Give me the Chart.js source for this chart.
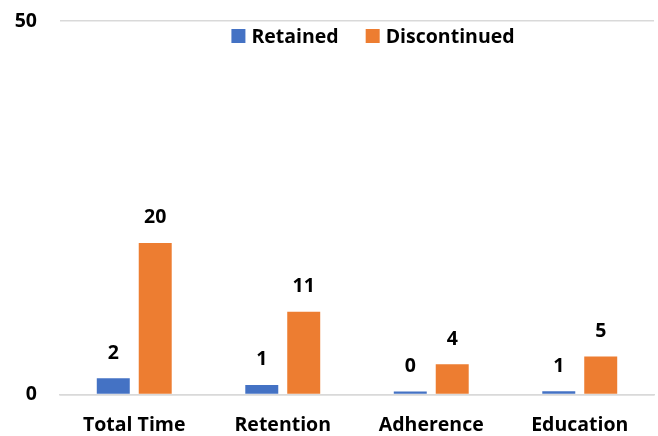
<!DOCTYPE html>
<html>
<head>
<meta charset="utf-8">
<script src="https://cdn.jsdelivr.net/npm/chart.js@4/dist/chart.umd.min.js"></script>
<style>
  html, body { margin: 0; padding: 0; background: #ffffff; }
  #wrap { width: 658px; height: 436px; position: relative; }
</style>
</head>
<body>
<div id="wrap"><canvas id="retentionChart"></canvas></div>
<script>
// Chart data
const categories = ['Total Time', 'Retention', 'Adherence', 'Education'];
const seriesNames = ['Retained', 'Discontinued'];
const retainedValues = [2.2, 1.3, 0.4, 0.45];
const discontinuedValues = [20.3, 11.1, 4.05, 5.1];
// labels as printed above the bars
const retainedLabels = ['2', '1', '0', '1'];
const discontinuedLabels = ['20', '11', '4', '5'];
const yTicks = [0, 50];

const blue = '#4472C4';
const orange = '#ED7D31';
const gridGray = '#d9d9d9';
const fontFamily = '"Open Sans", Lato, sans-serif';
const boldFont = 'bold 19.5px ' + fontFamily;

// draws value labels above the bars
const barLabels = {
    id: 'barLabels',
    afterDatasetsDraw(chart) {
        const ctx = chart.ctx;
        ctx.save();
        ctx.font = boldFont;
        ctx.fillStyle = '#000';
        ctx.textAlign = 'center';
        ctx.textBaseline = 'middle';
        chart.data.datasets.forEach(function(ds, i) {
            const meta = chart.getDatasetMeta(i);
            meta.data.forEach(function(bar, j) {
                ctx.fillText(ds.valueLabels[j], bar.x, bar.y - 25);
            });
        });
        ctx.restore();
    }
};

// y tick labels, placed off the scale so they don't pad the plot
const yLabels = {
    id: 'yLabels',
    afterDraw(chart) {
        const ctx = chart.ctx;
        const y = chart.scales.y;
        ctx.save();
        ctx.font = boldFont;
        ctx.fillStyle = '#000';
        ctx.textAlign = 'right';
        ctx.textBaseline = 'middle';
        yTicks.forEach(function(v) {
            ctx.fillText(String(v), chart.chartArea.left - 23, y.getPixelForValue(v));
        });
        ctx.restore();
    }
};

// legend sits inside the plot, under the top gridline
const innerLegend = {
    id: 'innerLegend',
    afterDraw(chart) {
        const ctx = chart.ctx;
        const area = chart.chartArea;
        ctx.save();
        ctx.font = boldFont;
        ctx.textBaseline = 'middle';
        const box = 14, boxGap = 6, itemGap = 27;
        const items = chart.data.datasets.map(function(ds) {
            return { text: ds.label, color: ds.backgroundColor, w: ctx.measureText(ds.label).width };
        });
        let total = 0;
        items.forEach(function(it, k) {
            total += box + boxGap + it.w + (k < items.length - 1 ? itemGap : 0);
        });
        let x = (area.left + area.right) / 2 + 16 - total / 2;
        const y = area.top + 15;
        items.forEach(function(it) {
            ctx.fillStyle = it.color;
            ctx.fillRect(x, y - box / 2, box, box);
            x += box + boxGap;
            ctx.fillStyle = '#000';
            ctx.fillText(it.text, x, y + 1);
            x += it.w + itemGap;
        });
        ctx.restore();
    }
};

new Chart(document.getElementById('retentionChart'), {
    type: 'bar',
    data: {
        labels: categories,
        datasets: [{
            label: seriesNames[0],
            data: retainedValues,
            valueLabels: retainedLabels,
            backgroundColor: blue
        }, {
            label: seriesNames[1],
            data: discontinuedValues,
            valueLabels: discontinuedLabels,
            backgroundColor: orange
        }]
    },
    options: {
        responsive: true,
        maintainAspectRatio: false,
        animation: false,
        layout: {
            padding: { top: 21, right: 4, bottom: -20, left: 0 }
        },
        datasets: {
            bar: {
                categoryPercentage: 0.565,
                barPercentage: 0.786
            }
        },
        scales: {
            x: {
                grid: { display: false, drawTicks: false },
                border: { color: gridGray, width: 1.5 },
                ticks: {
                    color: '#000',
                    padding: 19,
                    font: { family: fontFamily, size: 19.5, weight: 'bold' }
                }
            },
            y: {
                min: 0,
                max: 50,
                afterBuildTicks: function(scale) {
                    scale.ticks = yTicks.map(function(v) { return { value: v }; });
                },
                afterFit: function(scale) {
                    scale.width = 60;
                },
                grid: { color: gridGray, lineWidth: 1.5, drawTicks: false },
                border: { display: false },
                ticks: { display: false }
            }
        },
        plugins: {
            legend: { display: false },
            tooltip: { enabled: false }
        }
    },
    plugins: [barLabels, yLabels, innerLegend]
});
</script>
</body>
</html>
